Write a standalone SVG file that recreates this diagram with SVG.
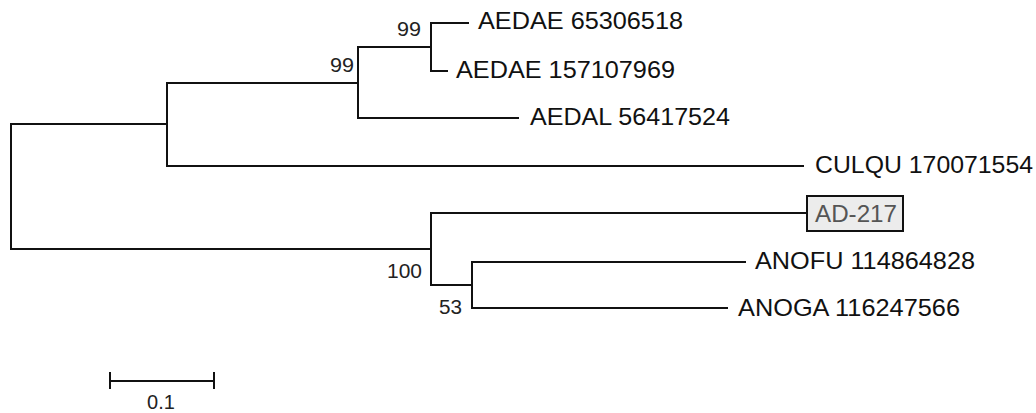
<svg xmlns="http://www.w3.org/2000/svg" width="1036" height="413" viewBox="0 0 1036 413">
<style>
.br{fill:none;stroke:#111;stroke-width:2;stroke-linecap:square}
.lab{font-family:"Liberation Sans",Arial,sans-serif;font-size:24px;fill:#111}
.bs{font-family:"Liberation Sans",Arial,sans-serif;font-size:19.5px;fill:#222}
</style>
<rect width="1036" height="413" fill="#fff"/>
<g id="connectors">
<path class="br" d="M11,124 V249"/>
<path class="br" d="M11,124 H167"/>
<path class="br" d="M11,249 H431"/>
<path class="br" d="M167,83 V166"/>
<path class="br" d="M167,83 H358"/>
<path class="br" d="M167,166 H803"/>
<path class="br" d="M358,47 V118"/>
<path class="br" d="M358,47 H431"/>
<path class="br" d="M358,118 H518"/>
<path class="br" d="M431,23 V71"/>
<path class="br" d="M431,23 H468"/>
<path class="br" d="M431,71 H447"/>
<path class="br" d="M431,213 V285"/>
<path class="br" d="M431,213 H806"/>
<path class="br" d="M431,285 H472"/>
<path class="br" d="M472,262 V308"/>
<path class="br" d="M472,262 H745"/>
<path class="br" d="M472,308 H727"/>
</g>
<g id="leaf-aedae65306518"><text class="lab" x="478" y="29" textLength="205" lengthAdjust="spacingAndGlyphs">AEDAE 65306518</text></g>
<g id="leaf-aedae157107969"><text class="lab" x="456" y="78" textLength="219" lengthAdjust="spacingAndGlyphs">AEDAE 157107969</text></g>
<g id="leaf-aedal56417524"><text class="lab" x="530" y="125" textLength="200" lengthAdjust="spacingAndGlyphs">AEDAL 56417524</text></g>
<g id="leaf-culqu170071554"><text class="lab" x="815" y="173" textLength="218" lengthAdjust="spacingAndGlyphs">CULQU 170071554</text></g>
<g id="leaf-ad217"><rect x="807" y="196" width="96" height="35" fill="#ececec" stroke="#111" stroke-width="2"/><text class="lab" x="815" y="222" textLength="82" lengthAdjust="spacingAndGlyphs" style="fill:#555">AD-217</text></g>
<g id="leaf-anofu114864828"><text class="lab" x="755" y="269" textLength="220" lengthAdjust="spacingAndGlyphs">ANOFU 114864828</text></g>
<g id="leaf-anoga116247566"><text class="lab" x="738" y="316" textLength="222" lengthAdjust="spacingAndGlyphs">ANOGA 116247566</text></g>
<g id="bootstrap">
<text class="bs" x="397" y="36" textLength="24" lengthAdjust="spacingAndGlyphs">99</text>
<text class="bs" x="330" y="72" textLength="24" lengthAdjust="spacingAndGlyphs">99</text>
<text class="bs" x="387" y="278" textLength="35" lengthAdjust="spacingAndGlyphs">100</text>
<text class="bs" x="439" y="314" textLength="23" lengthAdjust="spacingAndGlyphs">53</text>
</g>
<g id="scalebar">
<path class="br" d="M110,381 H214 M110,372 V389 M214,372 V389" style="stroke-linecap:butt"/>
<text class="bs" x="161" y="409" text-anchor="middle" style="font-size:20px">0.1</text>
</g>
</svg>
